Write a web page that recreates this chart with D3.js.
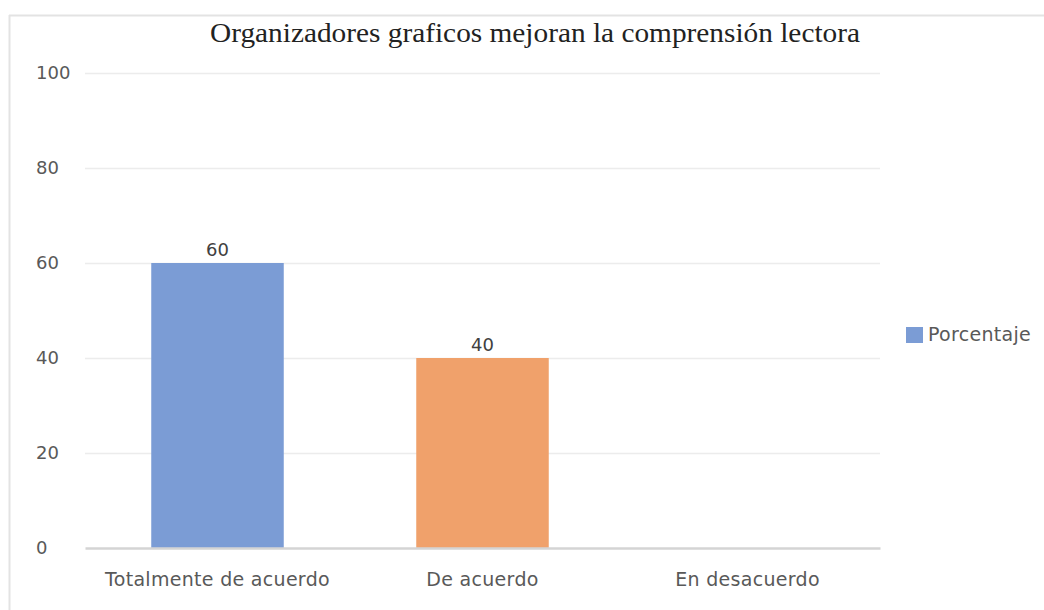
<!DOCTYPE html>
<html>
<head>
<meta charset="utf-8">
<script src="https://cdn.jsdelivr.net/npm/d3@7"></script>
<style>
  body { margin: 0; background: #fff; }
</style>
</head>
<body>
<script>
// chart data
categories = ["Totalmente de acuerdo", "De acuerdo", "En desacuerdo"]
values = [60, 40, 0]
barColors = ["#7b9cd5", "#f0a16b", "#a5a5a5"]
yTicks = [0, 20, 40, 60, 80, 100]
seriesName = "Porcentaje"
title = "Organizadores graficos mejoran la comprensión lectora"

width = 1044
height = 610
margin = {top: 73, right: 164, bottom: 62, left: 85}
labelFont = "DejaVu Sans, sans-serif"

function drawChart() {
  var svg = d3.select("body").append("svg")
    .attr("width", width)
    .attr("height", height)

  // outer frame (top and left edges only show in the picture)
  svg.append("line")
    .attr("x1", 9).attr("x2", width)
    .attr("y1", 15.5).attr("y2", 15.5)
    .attr("stroke", "#e3e3e3").attr("stroke-width", 2)
  svg.append("line")
    .attr("x1", 9.5).attr("x2", 9.5)
    .attr("y1", 15).attr("y2", height)
    .attr("stroke", "#e3e3e3").attr("stroke-width", 2)

  var x = d3.scaleBand()
    .domain(categories)
    .range([margin.left, width - margin.right])
    .paddingInner(0.5)
    .paddingOuter(0.25)

  var y = d3.scaleLinear()
    .domain([0, 100])
    .range([height - margin.bottom, margin.top])

  // gridlines
  svg.append("g")
    .selectAll("line")
    .data(yTicks.filter(d => d > 0))
    .join("line")
      .attr("x1", margin.left)
      .attr("x2", width - margin.right)
      .attr("y1", d => y(d) + 0.5)
      .attr("y2", d => y(d) + 0.5)
      .attr("stroke", "#ececec")
      .attr("stroke-width", 1.5)

  // y axis labels
  var yAxis = d3.axisLeft(y).tickValues(yTicks).tickSize(0).tickPadding(0)
  var gy = svg.append("g")
    .attr("transform", `translate(36,0)`)
    .call(yAxis)
  gy.select(".domain").remove()
  gy.selectAll("text")
    .attr("text-anchor", "start")
    .attr("font-family", labelFont)
    .attr("font-size", 18)
    .attr("fill", "#595959")

  // bars
  svg.append("g")
    .selectAll("rect")
    .data(values)
    .join("rect")
      .attr("x", (d, i) => x(categories[i]))
      .attr("y", d => y(d))
      .attr("width", x.bandwidth())
      .attr("height", d => y(0) - y(d))
      .attr("fill", (d, i) => barColors[i])

  // value labels
  svg.append("g")
    .selectAll("text")
    .data(values)
    .join("text")
      .filter(d => d > 0)
      .attr("x", (d, i) => x(categories[i]) + x.bandwidth() / 2)
      .attr("y", d => y(d) - 7)
      .attr("text-anchor", "middle")
      .attr("font-family", labelFont)
      .attr("font-size", 18)
      .attr("fill", "#404040")
      .text(d => d)

  // x axis baseline + labels
  var xAxis = d3.axisBottom(x).tickSize(0).tickPadding(25)
  var gx = svg.append("g")
    .attr("transform", `translate(0,${y(0)})`)
    .call(xAxis)
  gx.select(".domain")
    .attr("stroke", "#d4d4d4")
    .attr("stroke-width", 2.5)
  gx.selectAll("text")
    .attr("font-family", labelFont)
    .attr("font-size", 19)
    .attr("letter-spacing", 0.3)
    .attr("fill", "#595959")

  // title
  svg.append("text")
    .attr("x", 535)
    .attr("y", 42)
    .attr("text-anchor", "middle")
    .attr("font-family", "Liberation Serif, serif")
    .attr("font-size", 28)
    .attr("fill", "#222")
    .attr("textLength", 650)
    .attr("lengthAdjust", "spacingAndGlyphs")
    .text(title)

  // legend
  var legend = svg.append("g")
    .attr("transform", `translate(906,327)`)
  legend.append("rect")
    .attr("width", 17)
    .attr("height", 16)
    .attr("fill", barColors[0])
  legend.append("text")
    .attr("x", 22)
    .attr("y", 8)
    .attr("dominant-baseline", "middle")
    .attr("font-family", labelFont)
    .attr("font-size", 19)
    .attr("letter-spacing", 0.3)
    .attr("fill", "#595959")
    .text(seriesName)
}

drawChart()
</script>
</body>
</html>
